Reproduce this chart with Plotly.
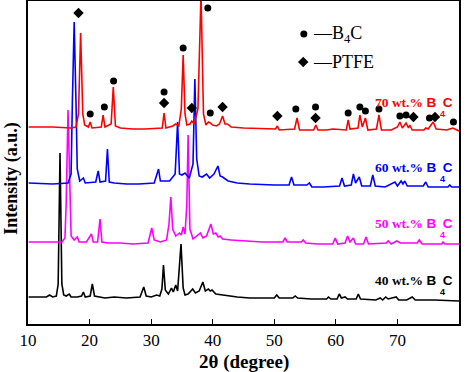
import plotly.graph_objects as go

# ---- data (2theta in degrees, intensity in arbitrary units incl. stacking offset) ----
x_40 = [10.1, 13.0, 13.5, 14.0, 14.6, 14.9, 15.2, 15.5, 15.8, 16.2, 16.7, 17.0, 18.0, 18.7, 19.0, 19.3,
        20.1, 20.45, 20.8, 21.5, 22.5, 24.0, 26.0, 28.2, 28.8, 29.2, 30.0, 30.9, 31.4, 31.75, 32.0, 32.3,
        32.8, 33.3, 33.6, 34.0, 34.3, 34.85, 35.2, 35.5, 36.0, 36.75, 37.2, 37.8, 38.4, 38.8, 39.3, 39.6,
        39.9, 40.5, 41.5, 42.5, 44.0, 46.0, 48.0, 50.0, 50.4, 50.8, 53.0, 53.4, 53.8, 56.0, 58.5, 58.8,
        59.2, 60.2, 60.55, 60.9, 61.5, 61.9, 63.3, 63.65, 64.0, 66.5, 67.2, 67.6, 68.1, 68.5, 69.8, 70.2,
        71.5, 72.4, 72.9, 76.0, 80.0]
y_40 = [27, 27, 29, 27, 28, 40, 171, 40, 29, 28, 30, 27, 27, 28, 32, 27,
        28, 40, 28, 27, 26, 27, 26, 27, 37, 28, 27, 29, 28, 35, 59, 34,
        30, 36, 32, 39, 33, 80, 36, 29, 30, 35, 31, 33, 42, 33, 35, 33,
        34, 30, 29, 28, 27, 26, 26, 26, 29, 26, 26, 28, 26, 25, 25, 27,
        25, 25, 30, 26, 27, 25, 25, 30, 25, 24, 26, 24, 27, 25, 27, 24,
        24, 27, 24, 24, 23]

x_50 = [10.1, 13.0, 15.5, 16.0, 16.2, 16.5, 16.8, 17.0, 17.5, 18.0, 18.3, 19.5, 20.3, 20.6, 21.3, 21.7,
        22.0, 23.0, 25.0, 27.0, 29.5, 30.1, 30.5, 31.5, 32.5, 32.9, 33.2, 33.5, 34.0, 34.6, 34.9, 35.2,
        35.5, 35.8, 36.0, 36.3, 36.8, 37.5, 38.0, 38.4, 39.0, 39.7, 40.1, 40.5, 40.9, 41.2, 41.6, 43.0,
        45.0, 48.0, 51.4, 51.75, 52.1, 54.4, 54.7, 55.1, 57.0, 59.5, 59.9, 60.3, 61.5, 61.9, 62.3, 62.85,
        63.2, 64.5, 64.9, 65.3, 68.2, 68.5, 69.0, 69.9, 70.5, 71.5, 73.2, 73.55, 74.0, 77.2, 77.4, 77.7, 80.0]
y_50 = [82, 82, 82, 86, 120, 214, 120, 88, 84, 87, 82, 82, 90, 82, 82, 105,
        82, 81, 81, 80, 81, 96, 84, 82, 84, 100, 127, 95, 88, 91, 89, 97,
        90, 120, 189, 95, 85, 88, 91, 86, 88, 100, 90, 91, 87, 88, 85, 84,
        83, 82, 82, 86, 82, 82, 84, 81, 80, 80, 86, 80, 81, 88, 82, 86,
        80, 80, 87, 80, 81, 83, 80, 83, 81, 81, 81, 84, 80, 80, 82, 80, 80]

x_60 = [10.1, 14.0, 16.5, 17.0, 17.2, 17.5, 17.8, 18.0, 18.4, 19.0, 19.3, 21.0, 21.4, 21.7, 22.6, 22.9,
        23.2, 24.0, 26.0, 28.0, 30.5, 31.2, 31.5, 33.0, 33.9, 34.3, 34.6, 35.0, 35.5, 36.2, 36.8, 37.1,
        37.4, 37.8, 38.3, 39.0, 39.5, 40.2, 40.85, 41.2, 41.6, 42.5, 44.0, 46.0, 50.0, 52.4, 52.8, 53.2,
        55.3, 55.7, 56.1, 58.0, 60.6, 61.0, 61.4, 62.5, 62.85, 63.2, 63.8, 64.2, 65.6, 66.0, 66.4, 68.0,
        69.6, 70.0, 70.6, 70.9, 71.2, 71.6, 74.2, 74.6, 75.0, 78.2, 78.5, 78.8, 80.0]
y_60 = [141, 140, 141, 150, 220, 302, 220, 155, 143, 146, 141, 142, 153, 142, 143, 175,
        142, 141, 140, 140, 141, 155, 143, 143, 150, 202, 150, 149, 151, 146, 160, 245,
        165, 148, 147, 150, 146, 150, 158, 148, 147, 143, 141, 140, 139, 139, 147, 139,
        139, 141, 137, 137, 138, 146, 138, 139, 150, 141, 147, 138, 138, 149, 138, 137,
        142, 138, 143, 140, 143, 138, 138, 142, 137, 137, 139, 137, 137]

x_70 = [10.1, 14.0, 17.0, 17.8, 18.2, 18.55, 18.9, 19.2, 19.8, 20.1, 20.4, 21.9, 22.2, 22.5, 23.5, 23.85,
        24.2, 25.0, 27.0, 29.0, 31.8, 32.1, 32.4, 33.5, 34.0, 34.5, 34.9, 35.2, 35.5, 35.8, 36.3, 36.6,
        37.0, 37.6, 38.1, 38.5, 38.9, 39.3, 39.6, 40.0, 40.6, 41.1, 41.6, 42.0, 42.4, 43.0, 45.0, 48.0,
        50.2, 50.5, 50.8, 53.3, 53.7, 54.1, 56.4, 56.75, 57.1, 58.5, 59.5, 61.7, 62.0, 62.3, 63.6, 63.9,
        64.3, 64.8, 65.2, 66.6, 67.0, 67.4, 69.0, 70.0, 70.4, 70.8, 71.4, 71.8, 72.0, 72.4, 74.3, 74.6,
        75.0, 75.8, 76.3, 78.0, 79.0, 80.0]
y_70 = [197, 197, 196, 197, 210, 291, 210, 199, 197, 202, 196, 197, 209, 197, 200, 237,
        198, 196, 195, 195, 196, 211, 196, 198, 200, 198, 215, 269, 210, 199, 200, 203,
        200, 215, 330, 210, 199, 202, 201, 199, 198, 200, 208, 200, 200, 197, 196, 195,
        195, 198, 194, 195, 206, 194, 194, 199, 194, 194, 195, 194, 204, 195, 196, 209,
        197, 206, 194, 195, 209, 194, 194, 197, 202, 196, 201, 196, 199, 194, 194, 196,
        195, 202, 195, 194, 196, 193]

# phase markers
b4c_x = [20.1, 22.4, 23.9, 32.1, 35.2, 39.2, 39.6, 53.5, 56.7, 62.0, 63.9, 64.8, 67.0, 70.4, 71.4, 75.2, 79.1]
b4c_y = [210, 217, 243, 232, 276, 316, 211, 215, 217, 211, 217, 213, 215, 208, 209, 206, 202]
ptfe_x = [18.2, 32.1, 36.6, 41.6, 50.5, 56.7, 72.6, 76.1]
ptfe_y = [311, 221, 216, 217, 208, 206, 207, 207]

series_names = ["40 wt.% B4C", "50 wt.% B4C", "60 wt.% B4C", "70 wt.% B4C"]
series_colors = ["#000000", "#FF00FF", "#0000FF", "#FF0000"]
label_y = [44, 101, 157, 222]

x_ticks = [10, 20, 30, 40, 50, 60, 70, 80]

SERIF = "Liberation Serif, Times New Roman, serif"
SANS = "Liberation Sans, Arial, sans-serif"

fig = go.Figure()
for xs, ys, name, col in zip([x_40, x_50, x_60, x_70], [y_40, y_50, y_60, y_70], series_names, series_colors):
    fig.add_trace(go.Scatter(x=xs, y=ys, mode="lines", name=name,
                             line=dict(color=col, width=1.6), showlegend=False))

fig.add_trace(go.Scatter(x=b4c_x, y=b4c_y, mode="markers", name="B4C", showlegend=False,
                         marker=dict(symbol="circle", size=7, color="black")))
fig.add_trace(go.Scatter(x=ptfe_x, y=ptfe_y, mode="markers", name="PTFE", showlegend=False,
                         marker=dict(symbol="diamond", size=8, color="black")))

# legend (drawn manually as in the original)
fig.add_trace(go.Scatter(x=[54.8], y=[290], mode="markers", showlegend=False,
                         marker=dict(symbol="circle", size=7, color="black")))
fig.add_trace(go.Scatter(x=[54.7], y=[262], mode="markers", showlegend=False,
                         marker=dict(symbol="diamond", size=8, color="black")))
fig.add_annotation(x=55.9, y=290, xref="x", yref="y", text="\u2014B<sub>4</sub>C", showarrow=False,
                   xanchor="left", yanchor="middle", font=dict(family=SERIF, size=18, color="black"))
fig.add_annotation(x=55.9, y=262, xref="x", yref="y", text="\u2014PTFE", showarrow=False,
                   xanchor="left", yanchor="middle", font=dict(family=SERIF, size=18, color="black"))

# series labels
for name, col, ly in zip(series_names, series_colors, label_y):
    pct = name.split(" B4C")[0]
    txt = f"<b>{pct} </b><b><span style='font-family:{SANS}'>B\u2002C</span></b>"
    fig.add_annotation(x=79.4, y=ly, xref="x", yref="y", text=txt, showarrow=False,
                       xanchor="right", yanchor="middle", font=dict(family=SERIF, size=13.5, color=col))
    fig.add_annotation(x=77.4, y=ly - 12, xref="x", yref="y", text="<b>4</b>", showarrow=False,
                       xanchor="center", yanchor="middle", font=dict(family=SANS, size=9, color=col))

# axis titles
fig.add_annotation(x=-0.037, y=0.45, xref="paper", yref="paper", text="<b>Intensity (a.u.)</b>",
                   textangle=-90, showarrow=False, xanchor="center", yanchor="middle",
                   font=dict(family=SERIF, size=18, color="black"))
fig.add_annotation(x=0.5, y=-0.118, xref="paper", yref="paper", text="<b>2\u03b8 (degree)</b>",
                   showarrow=False, xanchor="center", yanchor="middle",
                   font=dict(family=SERIF, size=19, color="black"))

fig.update_layout(
    width=467, height=372,
    margin=dict(l=28, r=8, t=1, b=48, autoexpand=False),
    paper_bgcolor="white", plot_bgcolor="white",
    showlegend=False,
)
fig.update_xaxes(range=[10, 80], tickvals=x_ticks, ticktext=[str(v) for v in x_ticks],
                 ticks="inside", ticklen=5, tickwidth=1.2, tickcolor="black",
                 showline=True, linecolor="black", linewidth=1.5, mirror=True,
                 showgrid=False, zeroline=False,
                 tickfont=dict(family=SERIF, size=17, color="black"))
fig.update_yaxes(range=[0, 323], showticklabels=False, ticks="",
                 showline=True, linecolor="black", linewidth=1.5, mirror=True,
                 showgrid=False, zeroline=False)

fig.write_html("out.html", config={"displayModeBar": False},
               post_script="document.body.style.margin='0';document.body.style.padding='0';")
